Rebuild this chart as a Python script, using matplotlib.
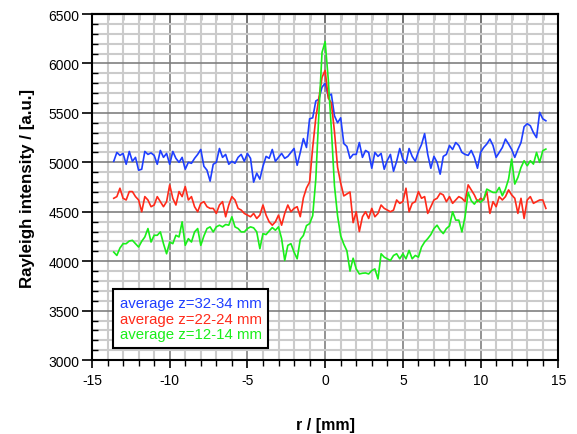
# --------------------------------------------------------------
# Radial Rayleigh intensity profiles at three heights
# --------------------------------------------------------------
import matplotlib
matplotlib.use("Agg")
import matplotlib.pyplot as plt
from matplotlib.ticker import MultipleLocator

plt.rcParams['font.family'] = ['Liberation Sans', 'DejaVu Sans']
plt.rcParams['axes.unicode_minus'] = False

# --------------------------------------------------------------
# Data
# --------------------------------------------------------------
r_mm = [
    -13.6, -13.4, -13.2, -13.0, -12.8, -12.6, -12.4, -12.2, -12.0, -11.8,
    -11.6, -11.4, -11.2, -11.0, -10.8, -10.6, -10.4, -10.2, -10.0, -9.8,
    -9.6, -9.4, -9.2, -9.0, -8.8, -8.6, -8.4, -8.2, -8.0, -7.8,
    -7.6, -7.4, -7.2, -7.0, -6.8, -6.6, -6.4, -6.2, -6.0, -5.8,
    -5.6, -5.4, -5.2, -5.0, -4.8, -4.6, -4.4, -4.2, -4.0, -3.8,
    -3.6, -3.4, -3.2, -3.0, -2.8, -2.6, -2.4, -2.2, -2.0, -1.8,
    -1.6, -1.4, -1.2, -1.0, -0.8, -0.6, -0.4, -0.2, 0.0, 0.2,
    0.4, 0.6, 0.8, 1.0, 1.2, 1.4, 1.6, 1.8, 2.0, 2.2,
    2.4, 2.6, 2.8, 3.0, 3.2, 3.4, 3.6, 3.8, 4.0, 4.2,
    4.4, 4.6, 4.8, 5.0, 5.2, 5.4, 5.6, 5.8, 6.0, 6.2,
    6.4, 6.6, 6.8, 7.0, 7.2, 7.4, 7.6, 7.8, 8.0, 8.2,
    8.4, 8.6, 8.8, 9.0, 9.2, 9.4, 9.6, 9.8, 10.0, 10.2,
    10.4, 10.6, 10.8, 11.0, 11.2, 11.4, 11.6, 11.8, 12.0, 12.2,
    12.4, 12.6, 12.8, 13.0, 13.2, 13.4, 13.6, 13.8, 14.0, 14.2,
]

# average z=32-34 mm
int_z32 = [
    5010, 5100, 5070, 5090, 4980, 5110, 5010, 5050, 4920, 4930,
    5110, 5080, 5095, 5070, 4980, 5120, 5050, 5090, 4980, 5110,
    5040, 5000, 5050, 4930, 5000, 4990, 5040, 5080, 5130, 4960,
    4920, 4810, 4980, 5000, 5140, 5050, 5080, 4980, 5010, 4990,
    5050, 5080, 5010, 5090, 5040, 4800, 4890, 4830, 4960, 5060,
    5040, 5130, 5010, 5050, 5090, 5040, 5060, 5100, 5140, 4970,
    5100, 5240, 5150, 5440, 5450, 5620, 5640, 5760, 5800, 5670,
    5690, 5470, 5400, 5450, 5190, 5160, 5040, 5080, 5080, 5200,
    5050, 5120, 5100, 4940, 5100, 5060, 5090, 4930, 5020, 5080,
    4910, 5010, 5140, 5030, 4990, 5140, 5060, 5010, 5110, 5180,
    5290, 5080, 4940, 5060, 5000, 4880, 5060, 5080, 5170, 5130,
    5200, 5170, 5100, 5080, 5070, 5120, 5050, 4940, 5100, 5150,
    5185, 5235, 5170, 5050, 5100, 5150, 5235, 5185, 5130, 5050,
    5130, 5200, 5360, 5390, 5370, 5300, 5250, 5505, 5440, 5420,
]

# average z=22-24 mm
int_z22 = [
    4636, 4653, 4738, 4636, 4619, 4704, 4704, 4653, 4619, 4500,
    4653, 4619, 4551, 4568, 4653, 4602, 4551, 4602, 4772, 4636,
    4568, 4704, 4653, 4755, 4619, 4653, 4551, 4500, 4585, 4602,
    4551, 4534, 4534, 4483, 4568, 4602, 4449, 4568, 4653, 4619,
    4534, 4517, 4483, 4466, 4449, 4483, 4432, 4466, 4568, 4466,
    4398, 4364, 4398, 4466, 4364, 4483, 4568, 4500, 4534, 4551,
    4450, 4640, 4740, 4800, 5150, 5450, 5650, 5860, 5930, 5650,
    5600, 5310, 4950, 4790, 4660, 4680, 4700, 4390, 4500, 4300,
    4449, 4500, 4432, 4534, 4449, 4483, 4568, 4534, 4517, 4500,
    4517, 4619, 4585, 4602, 4738, 4500, 4585, 4602, 4704, 4636,
    4653, 4483, 4551, 4619, 4636, 4687, 4670, 4602, 4653, 4585,
    4619, 4653, 4636, 4602, 4772, 4721, 4670, 4602, 4636, 4619,
    4704, 4483, 4602, 4551, 4653, 4619, 4653, 4721, 4670, 4636,
    4483, 4636, 4432, 4619, 4653, 4585, 4602, 4619, 4619, 4534,
]

# average z=12-14 mm
int_z12 = [
    4092, 4058, 4133, 4177, 4177, 4204, 4211, 4177, 4143, 4201,
    4245, 4330, 4194, 4262, 4262, 4296, 4177, 4075, 4194, 4177,
    4262, 4245, 4398, 4160, 4228, 4194, 4296, 4330, 4160, 4255,
    4330, 4347, 4296, 4347, 4364, 4347, 4371, 4364, 4449, 4347,
    4330, 4296, 4296, 4330, 4347, 4337, 4296, 4126, 4279, 4269,
    4306, 4340, 4313, 4347, 4228, 4007, 4160, 4177, 4092, 4024,
    4220, 4260, 4360, 4380, 4460, 4830, 5505, 6112, 6220, 5842,
    5336, 4763, 4459, 4257, 4172, 4105, 3900, 4030, 3922, 3871,
    3878, 3881, 3871, 3905, 3922, 3820, 4075, 4041, 4024, 4007,
    4058, 4075, 4024, 4075, 4024, 4109, 4024, 4058, 4041, 4143,
    4194, 4228, 4269, 4330, 4364, 4313, 4279, 4330, 4357, 4500,
    4415, 4415, 4296, 4450, 4695, 4611, 4577, 4620, 4594, 4628,
    4729, 4712, 4695, 4695, 4746, 4662, 4729, 4830, 5033, 4780,
    4847, 4948, 5016, 4965, 5016, 4982, 5100, 4999, 5117, 5134,
]

labels = ["average z=32-34 mm", "average z=22-24 mm", "average z=12-14 mm"]
colors = ["#1f3fff", "#ff2a1a", "#1aee1a"]

# --------------------------------------------------------------
# Figure
# --------------------------------------------------------------
fig = plt.figure(figsize=(5.77, 4.35), dpi=100)
ax = fig.add_axes([0.1594, 0.170, 0.8082, 0.7955])

for vals, lab, col in zip([int_z32, int_z22, int_z12], labels, colors):
    ax.plot(r_mm, vals, color=col, lw=1.2, label=lab, zorder=3)

ax.set_xlim(-15, 15)
ax.set_ylim(3000, 6500)
ax.xaxis.set_major_locator(MultipleLocator(5))
ax.xaxis.set_minor_locator(MultipleLocator(1))
ax.yaxis.set_major_locator(MultipleLocator(500))
ax.yaxis.set_minor_locator(MultipleLocator(100))

# Grid: light minor, darker major
ax.grid(which='minor', color='#cbcbcb', lw=1.5, zorder=0)
ax.grid(which='major', color='#808080', lw=1.2, zorder=1)
ax.set_axisbelow(True)

# bottom / left: major ticks outwards, minor inwards on the left
ax.tick_params(axis='x', which='major', direction='out', length=6, width=1.2,
               labelsize=10, pad=3)
ax.tick_params(axis='x', which='minor', direction='out', length=4, width=1.0)
ax.tick_params(axis='y', which='major', direction='out', length=7, width=1.2,
               labelsize=10, pad=2, right=False)
ax.tick_params(axis='y', which='minor', direction='in', length=4, width=1.0,
               right=False)

# top: ticks pointing into the plot, no labels
top = ax.secondary_xaxis('top')
top.xaxis.set_major_locator(MultipleLocator(5))
top.xaxis.set_minor_locator(MultipleLocator(1))
top.tick_params(which='major', direction='in', length=7, width=1.2,
                labeltop=False)
top.tick_params(which='minor', direction='in', length=4, width=1.0)
top.spines['top'].set_linewidth(1.5)

for sp in ax.spines.values():
    sp.set_linewidth(1.5)

ax.set_xlabel("r / [mm]", fontsize=11.5, fontweight='bold', labelpad=22)
ax.set_ylabel("Rayleigh intensity / [a.u.]", fontsize=12.2,
              fontweight='bold', labelpad=10)

leg = ax.legend(loc='lower left', bbox_to_anchor=(0.045, 0.035),
                borderaxespad=0, handlelength=0, handletextpad=0,
                labelcolor='linecolor', fancybox=False, framealpha=1,
                edgecolor='black', fontsize=10.8, borderpad=0.45,
                labelspacing=0.1)
leg.get_frame().set_linewidth(1.5)
for h in leg.legend_handles:
    h.set_visible(False)

fig.savefig("out.png", dpi=100, facecolor='white')
